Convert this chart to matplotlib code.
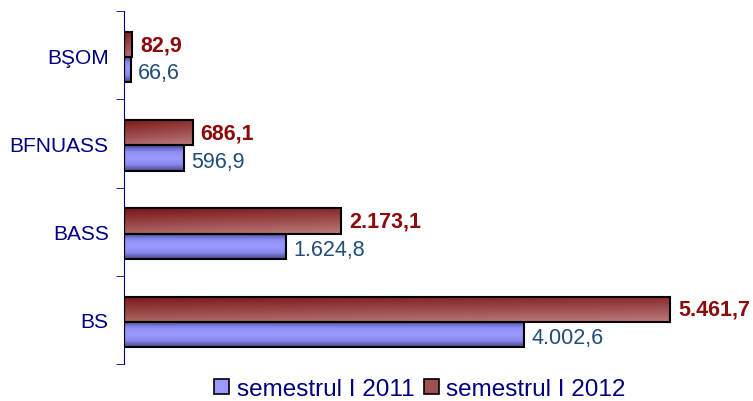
import numpy as np
import matplotlib.pyplot as plt
from matplotlib.colors import LinearSegmentedColormap

categories = ['BS', 'BASS', 'BFNUASS', 'BŞOM']
sem_2011 = [4002.6, 1624.8, 596.9, 66.6]
sem_2012 = [5461.7, 2173.1, 686.1, 82.9]
series_names = ['semestrul I 2011', 'semestrul I 2012']


def fmt(v):
    # European style: 5.461,7
    s = '{:,.1f}'.format(v)
    return s.replace(',', 'X').replace('.', ',').replace('X', '.')


def gradient_fill(ax, bars, cmap, horiz=False):
    for b in bars:
        x0, y0 = b.get_x(), b.get_y()
        w, h = b.get_width(), b.get_height()
        grad = np.linspace(0, 1, 64).reshape(-1, 1)
        if horiz:
            grad = grad * 0.8 + np.linspace(0, 0.2, 64).reshape(1, -1)
        im = ax.imshow(grad, extent=(x0, x0 + w, y0, y0 + h), origin='upper',
                       cmap=cmap, aspect='auto', zorder=2, vmin=0, vmax=1)
        im.set_clip_path(b)


plt.rcParams['font.family'] = ['Liberation Sans', 'DejaVu Sans']
navy = '#000080'

fig = plt.figure(figsize=(7.53, 4.02), dpi=100)
ax = fig.add_axes([124 / 753, 1 - 365 / 402, 600 / 753, 353 / 402])

y = np.arange(len(categories))
h = 0.285
red_cmap = LinearSegmentedColormap.from_list('r', ['#7a1515', '#9a4848', '#bd7c7c'])
blue_cmap = LinearSegmentedColormap.from_list('b', ['#4a4a9a', '#8c8cf5', '#9a9aff', '#8888ee', '#4a4a8a'])

b_red = ax.barh(y + 0.12, sem_2012, height=h, color='#a05050', zorder=1)
b_blue = ax.barh(y - 0.165, sem_2011, height=h, color='#9999ff', zorder=1)
gradient_fill(ax, b_red, red_cmap, horiz=True)
gradient_fill(ax, b_blue, blue_cmap)
ax.barh(y + 0.12, sem_2012, height=h, fill=False, edgecolor='black', lw=1.5, zorder=3)
ax.barh(y - 0.165, sem_2011, height=h, fill=False, edgecolor='black', lw=1.5, zorder=3)

for yi, v in zip(y, sem_2012):
    ax.text(v + 80, yi + 0.12, fmt(v), color='#8b0a0a', fontsize=15.5,
            fontweight='bold', va='center', ha='left')
for yi, v in zip(y, sem_2011):
    ax.text(v + 70, yi - 0.2, fmt(v), color='#1f4e79', fontsize=15.5,
            va='center', ha='left')

ax.set_xlim(0, 6000)
ax.set_ylim(-0.5, 3.5)
ax.set_yticks(y)
ax.set_yticklabels(categories, color=navy, fontsize=15)
ax.set_yticks(np.arange(-0.5, 3.6, 1), minor=True)
ax.tick_params(axis='y', which='major', length=0, pad=11)
ax.tick_params(axis='y', which='minor', length=6, color=navy, direction='out')
ax.set_xticks([])
for s in ['top', 'right', 'bottom']:
    ax.spines[s].set_visible(False)
ax.spines['left'].set_color(navy)

handles = [plt.Rectangle((0, 0), 1, 1, fc='#9999ff', ec='black', lw=1.2),
           plt.Rectangle((0, 0), 1, 1, fc='#a05050', ec='black', lw=1.2)]
leg = fig.legend(handles, series_names, loc='center', bbox_to_anchor=(420 / 753, 1 - 390 / 402),
                 ncol=2, frameon=False, fontsize=17.5, handlelength=0.62, handleheight=0.62,
                 handletextpad=0.3, columnspacing=0.4, borderpad=0)
for t in leg.get_texts():
    t.set_color(navy)

fig.savefig('out.png', dpi=100)
